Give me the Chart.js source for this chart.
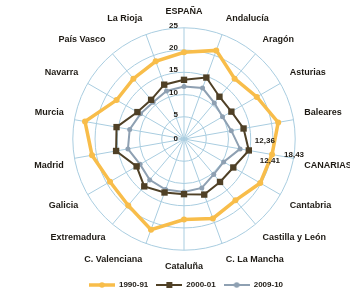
<!DOCTYPE html>
<html>
<head>
<meta charset="utf-8">
<script src="https://cdn.jsdelivr.net/npm/chart.js@4.4.1/dist/chart.umd.min.js"></script>
<style>
  html, body { margin: 0; padding: 0; background: #fff; overflow: hidden; }
  #wrap { position: absolute; left: 0; top: 0; width: 372px; height: 299px; }
</style>
</head>
<body>
<div id="wrap"><canvas id="radar" width="372" height="299"></canvas></div>
<script>
const categories = ['ESPAÑA', 'Andalucía', 'Aragón', 'Asturias', 'Baleares', 'CANARIAS',
  'Cantabria', 'Castilla y León', 'C. La Mancha', 'Cataluña', 'C. Valenciana',
  'Extremadura', 'Galicia', 'Madrid', 'Murcia', 'Navarra', 'País Vasco', 'La Rioja']

const seriesNames = ['1990-91', '2000-01', '2009-10']
const values1990 = [19.5, 21.2, 17.7, 18.9, 21.5, 20.1, 19.8, 18.0, 19.0, 18.1, 21.7, 19.5, 19.2, 21.0, 22.6, 17.5, 17.7, 18.6]
const values2000 = [13.3, 14.7, 12.4, 12.3, 13.6, 14.8, 12.8, 12.6, 13.3, 12.4, 12.8, 13.9, 12.3, 15.5, 15.4, 12.1, 11.5, 13.0]
const values2009 = [11.8, 12.2, 10.6, 10.0, 10.8, 12.8, 10.3, 10.4, 11.7, 11.9, 12.1, 12.0, 11.4, 12.8, 12.4, 11.3, 10.8, 11.5]
const tickValues = [0, 5, 10, 15, 20, 25]

// notes printed next to the Canarias spoke
const canariasNotes = ['12,36', '18,43', '12,41']

const orange = '#f8bd4a'
const brown = '#4f4026'
const grey = '#8ea0b2'
const gridBlue = '#a9cde0'
const textDark = '#1e1a14'
const font = "'Liberation Sans', Arial, sans-serif"

function legendIcon (color, shape, lw) {
  const c = document.createElement('canvas')
  c.width = 26
  c.height = 8
  const g = c.getContext('2d')
  g.strokeStyle = color
  g.lineWidth = lw
  g.beginPath()
  g.moveTo(0, 4)
  g.lineTo(26, 4)
  g.stroke()
  g.fillStyle = color
  if (shape === 'rect') {
    g.fillRect(10, 1, 6, 6)
  } else {
    g.beginPath()
    g.arc(13, 4, 2.8, 0, Math.PI * 2)
    g.fill()
  }
  return c
}
const icons = [legendIcon(orange, 'circle', 3.5), legendIcon(brown, 'rect', 2), legendIcon(grey, 'circle', 2)]

const tickPlugin = {
  id: 'tickPlugin',
  afterDraw (chart) {
    const s = chart.scales.r
    const ctx = chart.ctx
    ctx.save()
    ctx.font = `bold 8px ${font}`
    ctx.fillStyle = textDark
    ctx.textAlign = 'right'
    ctx.textBaseline = 'middle'
    for (const v of tickValues) {
      const d = s.getDistanceFromCenterForValue(v)
      ctx.fillText(String(v), s.xCenter - 6, s.yCenter - d + (v === 0 ? 0 : -2))
    }
    // Canarias notes
    const idx = categories.indexOf('CANARIAS')
    const p2000 = s.getPointPosition(idx, s.getDistanceFromCenterForValue(values2000[idx]))
    const p1990 = s.getPointPosition(idx, s.getDistanceFromCenterForValue(values1990[idx]))
    ctx.textAlign = 'center'
    ctx.fillText(canariasNotes[0], p2000.x + 16, p2000.y - 10)
    ctx.fillText(canariasNotes[1], p1990.x + 22, p1990.y)
    ctx.fillText(canariasNotes[2], p2000.x + 21, p2000.y + 10)
    ctx.restore()
  }
}

new Chart(document.getElementById('radar'), {
  type: 'radar',
  data: {
    labels: categories,
    datasets: [
      {
        label: seriesNames[0],
        data: values1990,
        borderColor: orange,
        backgroundColor: orange,
        borderWidth: 3.5,
        pointStyle: 'circle',
        pointRadius: 3,
        pointBorderWidth: 0,
        fill: false
      },
      {
        label: seriesNames[1],
        data: values2000,
        borderColor: brown,
        backgroundColor: brown,
        borderWidth: 2,
        pointStyle: 'rect',
        pointRadius: 4.5,
        pointBorderWidth: 0,
        fill: false
      },
      {
        label: seriesNames[2],
        data: values2009,
        borderColor: grey,
        backgroundColor: grey,
        borderWidth: 2,
        pointStyle: 'circle',
        pointRadius: 2.5,
        pointBorderWidth: 0,
        fill: false
      }
    ]
  },
  options: {
    responsive: false,
    animation: false,
    layout: { padding: { top: 7, bottom: 0, left: 0, right: 0 } },
    elements: { line: { tension: 0 } },
    scales: {
      r: {
        min: 0,
        max: 25,
        ticks: { display: false, stepSize: 5 },
        grid: { circular: true, color: gridBlue, lineWidth: 1 },
        angleLines: { color: gridBlue, lineWidth: 1 },
        pointLabels: {
          color: textDark,
          padding: 11,
          font: { family: font, size: 9, weight: 'bold' }
        }
      }
    },
    plugins: {
      legend: {
        position: 'bottom',
        labels: {
          usePointStyle: true,
          pointStyleWidth: 26,
          color: textDark,
          boxHeight: 8,
          padding: 8,
          font: { family: font, size: 8, weight: 'bold' },
          generateLabels (chart) {
            const items = Chart.defaults.plugins.legend.labels.generateLabels(chart)
            items.forEach((it, i) => { it.pointStyle = icons[i] })
            return items
          }
        }
      },
      tooltip: { enabled: false }
    }
  },
  plugins: [tickPlugin]
})
</script>
</body>
</html>
